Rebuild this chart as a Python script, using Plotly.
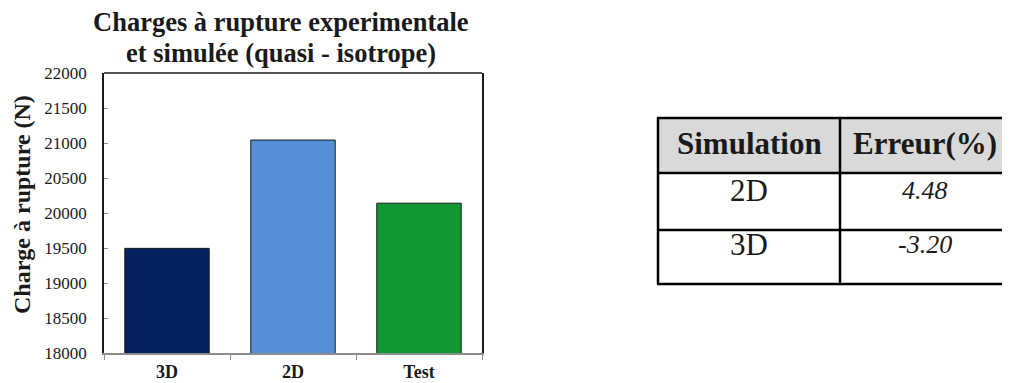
import plotly.graph_objects as go

# ---- data ----
categories = ["3D", "2D", "Test"]
charges = [19495, 21042, 20140]
bar_colors = ["#03215e", "#568ed5", "#0f9833"]

y_ticks = [18000, 18500, 19000, 19500, 20000, 20500, 21000, 21500, 22000]

table_header = ["Simulation", "Erreur(%)"]
table_sim = ["2D", "3D"]
table_err = ["4.48", "-3.20"]

# ---- layout geometry (page pixels; the html body adds an 8px offset) ----
OFF = 8
W, H = 1010 - OFF, 383 - OFF
L, R, T, B = 104, 482, 73, 353  # page coords of plot area


def px(x):
    return (x - L) / (R - L)


def py(y):
    return (B - y) / (B - T)


SERIF = "Liberation Serif"

fig = go.Figure()
fig.add_trace(go.Bar(
    x=categories, y=charges,
    marker=dict(color=bar_colors, line=dict(color="#1a1a1a", width=1)),
    width=0.67,
    showlegend=False,
))

fig.update_layout(
    width=W, height=H,
    margin=dict(l=L - OFF, r=W - (R - OFF), t=T - OFF, b=H - (B - OFF), pad=0, autoexpand=False),
    paper_bgcolor="white", plot_bgcolor="white",
    font=dict(family=SERIF, color="#1a1a1a"),
    xaxis=dict(
        automargin=False,
        showline=True, linecolor="#8c8c8c", linewidth=1.5,
        ticks="outside", tickson="boundaries", ticklen=5, tickcolor="#8c8c8c",
        tickfont=dict(family=SERIF, size=18, color="#1a1a1a", weight="bold"),
        ticklabelstandoff=2,
        showgrid=False, zeroline=False,
    ),
    yaxis=dict(
        automargin=False,
        range=[18000, 22000], tickvals=y_ticks, tickformat="d",
        showline=True, linecolor="#1a1a1a", linewidth=1.5, mirror=True,
        ticks="inside", ticklen=4, tickcolor="#8c8c8c",
        tickfont=dict(family=SERIF, size=17, color="#1a1a1a"),
        ticklabelstandoff=12,
        showgrid=False, zeroline=False,
    ),
)

# top frame line
fig.add_shape(type="line", xref="paper", yref="paper", x0=0, x1=1, y0=1, y1=1,
              line=dict(color="#1a1a1a", width=1.5))

# chart title (two lines)
title_lines = ["Charges à rupture experimentale", "et simulée (quasi - isotrope)"]
for txt, cy in zip(title_lines, [22, 53]):
    fig.add_annotation(
        text=txt, xref="paper", yref="paper", x=px(281), y=py(cy),
        xanchor="center", yanchor="middle", showarrow=False, borderpad=0,
        font=dict(family=SERIF, size=26.5, color="#1a1a1a", weight="bold"),
    )

# y axis title
fig.add_annotation(
    text="Charge à rupture (N)", textangle=-90,
    xref="paper", yref="paper", x=px(22), y=py(205), xanchor="center", yanchor="middle",
    showarrow=False,
    font=dict(family=SERIF, size=24, color="#1a1a1a", weight="bold"),
)

# ---- table ----
TX0, TXM, TX1 = 658, 840, 1010
rows_y = [118, 173, 230, 284]

fig.add_shape(type="rect", xref="paper", yref="paper",
              x0=px(TX0), x1=px(TX1 + 5), y0=py(rows_y[0]), y1=py(rows_y[1]),
              fillcolor="#d9d9d9", line=dict(width=0), layer="below")
for yy in rows_y:
    fig.add_shape(type="line", xref="paper", yref="paper",
                  x0=px(TX0 - 1), x1=px(TX1 + 5), y0=py(yy), y1=py(yy),
                  line=dict(color="black", width=2.5))
for xx in [TX0, TXM]:
    fig.add_shape(type="line", xref="paper", yref="paper",
                  x0=px(xx), x1=px(xx), y0=py(rows_y[0]), y1=py(rows_y[-1]),
                  line=dict(color="black", width=2.5))

col_cx = [(TX0 + TXM) / 2, (TXM + TX1) / 2]
for cx, txt in zip(col_cx, table_header):
    fig.add_annotation(text=txt, xref="paper", yref="paper", x=px(cx), y=py(143),
                       xanchor="center", yanchor="middle", showarrow=False,
                       font=dict(family=SERIF, size=31, color="#1a1a1a", weight="bold"))
row_cy = [190, 244]
for cy, s, e in zip(row_cy, table_sim, table_err):
    fig.add_annotation(text=s, xref="paper", yref="paper", x=px(col_cx[0]), y=py(cy),
                       xanchor="center", yanchor="middle", showarrow=False,
                       font=dict(family=SERIF, size=31, color="#1a1a1a"))
    fig.add_annotation(text="<i>" + e + "</i>", xref="paper", yref="paper",
                       x=px(col_cx[1]), y=py(cy),
                       xanchor="center", yanchor="middle", showarrow=False,
                       font=dict(family=SERIF, size=26, color="#1a1a1a"))

fig.write_html("out.html")
